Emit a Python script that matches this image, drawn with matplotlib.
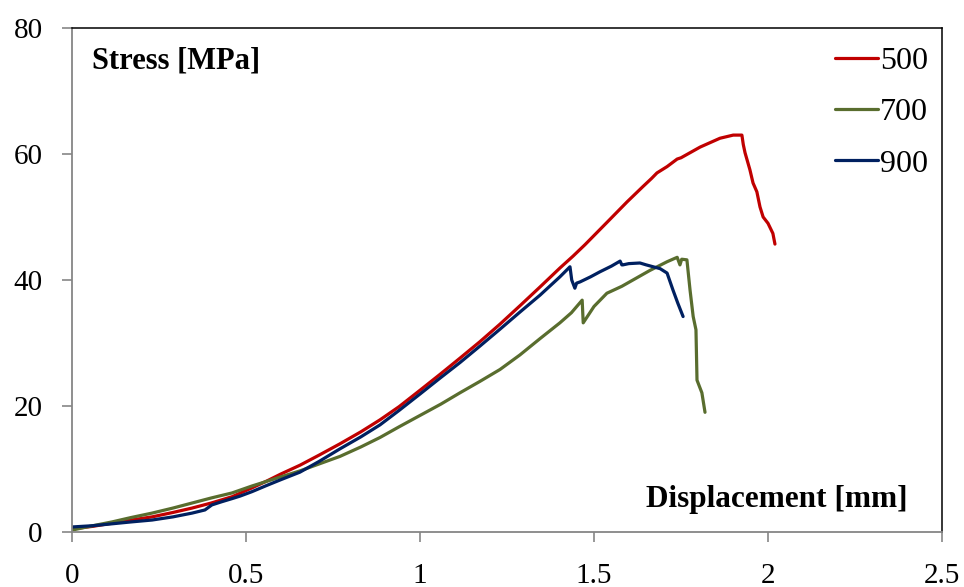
import matplotlib
matplotlib.use("Agg")
import matplotlib.pyplot as plt
from matplotlib.ticker import FuncFormatter

plt.rcParams['font.family'] = ['Liberation Serif', 'DejaVu Serif']

# ---- data ----
x_500 = [0, 0.06, 0.115, 0.17, 0.23, 0.29, 0.345, 0.40, 0.46, 0.517, 0.56, 0.60, 0.655, 0.71,
         0.77, 0.83, 0.885, 0.94, 1.0, 1.057, 1.115, 1.172, 1.23, 1.287, 1.345, 1.402, 1.44,
         1.474, 1.54, 1.595, 1.64, 1.665, 1.681, 1.71, 1.739, 1.75, 1.805, 1.862, 1.90, 1.925,
         1.929, 1.934, 1.948, 1.957, 1.968, 1.977, 1.986, 2.0, 2.014, 2.02]
y_500 = [0.5, 0.9, 1.4, 1.9, 2.4, 3.1, 3.8, 4.6, 5.6, 7.0, 8.1, 9.2, 10.6, 12.2,
         14.0, 15.9, 17.8, 19.9, 22.5, 25.0, 27.6, 30.2, 33.0, 35.9, 38.9, 41.9, 43.8,
         45.6, 49.3, 52.4, 54.8, 56.1, 57.0, 58.0, 59.2, 59.4, 61.1, 62.5, 63.0, 63.0,
         61.5, 60.2, 57.5, 55.4, 54.0, 51.6, 50.0, 49.0, 47.4, 45.7]

x_700 = [0, 0.06, 0.115, 0.17, 0.23, 0.29, 0.345, 0.40, 0.46, 0.517, 0.58, 0.655, 0.71, 0.77,
         0.83, 0.885, 0.94, 1.0, 1.06, 1.115, 1.172, 1.23, 1.287, 1.345, 1.402, 1.435, 1.466,
         1.469, 1.50, 1.537, 1.58, 1.612, 1.66, 1.71, 1.739, 1.747, 1.752, 1.767, 1.776,
         1.785, 1.793, 1.796, 1.81, 1.819]
y_700 = [0.3, 1.0, 1.6, 2.3, 3.0, 3.8, 4.6, 5.4, 6.2, 7.3, 8.4, 9.7, 10.8, 12.0,
         13.5, 15.0, 16.7, 18.5, 20.3, 22.1, 23.9, 25.8, 28.1, 30.7, 33.2, 34.8, 36.8,
         33.2, 35.8, 37.9, 39.0, 40.0, 41.5, 42.9, 43.6, 42.4, 43.3, 43.2, 38.4,
         34.2, 32.1, 24.1, 22.1, 19.0]

x_900 = [0, 0.06, 0.115, 0.17, 0.23, 0.29, 0.345, 0.382, 0.402, 0.43, 0.46, 0.483, 0.517,
         0.56, 0.60, 0.655, 0.71, 0.77, 0.83, 0.885, 0.94, 1.0, 1.057, 1.115, 1.172, 1.23,
         1.287, 1.345, 1.402, 1.431, 1.436, 1.445, 1.45, 1.46, 1.49, 1.517, 1.55, 1.575,
         1.58, 1.583, 1.60, 1.632, 1.65, 1.67, 1.69, 1.71, 1.727, 1.741, 1.756]
y_900 = [0.8, 1.0, 1.3, 1.6, 1.9, 2.4, 3.0, 3.5, 4.3, 4.8, 5.3, 5.7, 6.4,
         7.4, 8.3, 9.5, 11.2, 13.2, 15.1, 17.0, 19.3, 21.9, 24.4, 26.9, 29.5, 32.2,
         34.9, 37.6, 40.5, 42.1, 40.0, 38.7, 39.5, 39.7, 40.5, 41.3, 42.2, 43.0,
         42.4, 42.4, 42.6, 42.7, 42.4, 42.1, 41.8, 41.1, 38.4, 36.3, 34.2]

series_labels = ['500', '700', '900']
series_colors = ['#C00000', '#596D2E', '#002060']

x_ticks = [0, 0.5, 1, 1.5, 2, 2.5]
y_ticks = [0, 20, 40, 60, 80]

# ---- figure ----
fig = plt.figure(figsize=(9.64, 5.87), dpi=100)
ax = fig.add_axes([72 / 964, 55 / 587, 870 / 964, 504 / 587])

for xs, ys, lab, col in zip([x_500, x_700, x_900], [y_500, y_700, y_900],
                            series_labels, series_colors):
    ax.plot(xs, ys, color=col, lw=2.3, label=lab, solid_joinstyle='round',
            solid_capstyle='round')

ax.set_xlim(0, 2.5)
ax.set_ylim(0, 80)
ax.set_xticks(x_ticks)
ax.set_yticks(y_ticks)
ax.xaxis.set_major_formatter(FuncFormatter(lambda v, p: '%g' % v))

for s in ['left', 'bottom']:
    ax.spines[s].set_color('#868686')
    ax.spines[s].set_linewidth(1.3)
for s in ['top', 'right']:
    ax.spines[s].set_color('black')
    ax.spines[s].set_linewidth(1.1)

ax.tick_params(axis='both', direction='out', length=7, width=1.2, color='#868686',
               labelsize=21, labelcolor='black')
ax.tick_params(axis='x', pad=15)
ax.tick_params(axis='y', pad=14)

ax.text(0.057, 74.8, 'Stress [MPa]', fontsize=22, fontweight='bold',
        ha='left', va='center')
ax.text(2.400, 5.1, 'Displacement [mm]', fontsize=22.5, fontweight='bold',
        ha='right', va='center')

leg = ax.legend(loc='upper left', bbox_to_anchor=((835 - 72) / 870, (532 - 47) / 504),
                frameon=False, fontsize=23, handlelength=1.35, handletextpad=0.05,
                labelspacing=0.68, borderpad=0, borderaxespad=0)

fig.savefig('out.png', dpi=100)
